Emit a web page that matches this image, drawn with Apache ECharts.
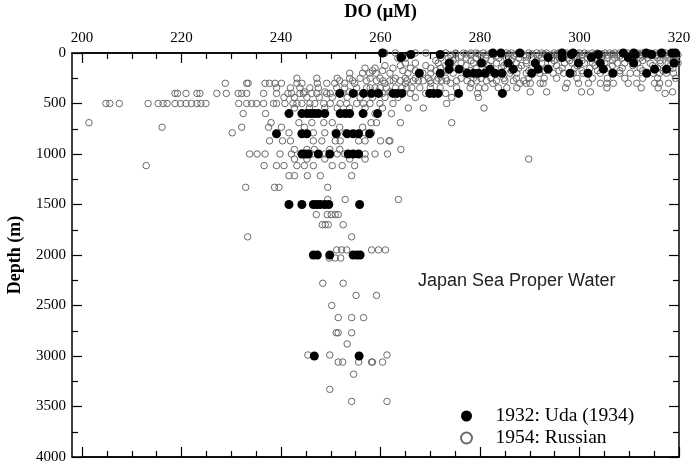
<!DOCTYPE html>
<html>
<head>
<meta charset="utf-8">
<script src="https://cdn.jsdelivr.net/npm/echarts@6/dist/echarts.min.js"></script>
<style>
  html, body { margin: 0; padding: 0; background: #fff; }
  #chart { width: 692px; height: 468px; }
</style>
</head>
<body>
<div id="chart"></div>
<script>
// 1932: Uda (1934) — depth levels (m) and the DO values (uM) read at each level
const udaLevels = [0, 15, 45, 100, 160, 200, 400, 600, 800, 1000, 1500, 2000, 3000];
const udaValues = [
  [260.4, 282.6, 284.2, 288.0, 296.5, 298.7, 308.8, 310.9, 313.4, 316.5, 318.6, 319.3],
  [266.1, 272.0, 298.4, 303.8, 311.2, 314.5],
  [264.1, 293.7, 296.5, 302.4, 309.8],
  [273.8, 280.3, 285.7, 291.1, 299.8, 304.2, 310.9, 319.0],
  [273.8, 275.8, 282.0, 286.7, 291.7, 293.7, 304.8, 315.1, 317.5],
  [267.8, 272.0, 277.4, 278.7, 279.7, 281.0, 283.0, 284.4, 290.4, 298.1, 301.7, 306.7, 313.5],
  [251.8, 254.5, 256.6, 258.2, 259.6, 262.5, 263.3, 264.3, 269.9, 270.7, 271.6, 275.7, 284.5],
  [241.6, 244.2, 245.2, 246.0, 246.7, 247.5, 248.8, 251.9, 252.9, 253.8, 256.5, 259.4],
  [239.1, 244.2, 245.2, 251.1, 253.3, 254.5, 255.6, 257.8],
  [244.2, 244.8, 245.5, 247.5, 249.8, 253.5, 254.5, 255.6],
  [241.6, 244.2, 246.5, 247.2, 247.9, 248.8, 249.6, 255.8],
  [246.5, 247.3, 249.8, 254.5, 255.3, 255.9],
  [246.7, 255.7]
];

// 1954: Russian — depth levels (m) and the DO values (uM) read at each level
const russianLevels = [
  0, 10, 20, 30, 50, 75, 100, 125, 150, 175, 200, 250, 275, 300, 345, 385,
  400, 440, 500, 545, 600, 690, 735, 790, 870, 955, 1000, 1050, 1115,
  1215, 1330, 1450, 1600, 1700, 1820, 1950, 2030, 2280, 2400, 2500, 2620,
  2770, 2880, 2990, 3060, 3180, 3330, 3450
];
const russianValues = [
  [260.9, 263.0, 267.0, 269.1, 273.1, 275.1, 276.7, 278.2, 279.2, 280.7, 282.2, 284.3, 285.3, 286.3, 288.3, 289.8, 291.4, 292.4, 293.4, 294.9, 295.9, 297.5, 298.5, 300.0, 301.0, 302.6, 303.6, 305.1, 306.1, 307.1, 308.1, 309.6, 310.7, 311.7, 312.7, 314.2, 315.2, 316.2, 317.3, 318.3, 319.3],
  [275.1, 277.2, 279.7, 282.8, 285.8, 287.3, 290.4, 292.9, 295.4, 298.0, 299.5, 301.6, 303.1, 304.6, 306.6, 309.1, 311.2, 313.2, 314.7, 316.8, 318.8],
  [274.1, 278.2, 281.2, 284.3, 288.8, 291.9, 294.4, 297.0, 300.5, 304.1, 305.6, 307.6, 310.2, 312.2, 313.7, 315.7, 317.8, 319.8],
  [276.2, 280.2, 283.3, 286.8, 289.3, 293.4, 296.5, 299.0, 302.1, 304.6, 308.1, 310.7, 312.7, 315.2, 317.3, 319.3],
  [263.5, 265.0, 272.1, 273.6, 275.1, 277.2, 279.2, 281.2, 283.8, 285.3, 287.8, 290.4, 292.4, 294.4, 295.9, 297.5, 299.5, 301.6, 303.1, 305.6, 307.1, 308.6, 310.7, 312.2, 313.7, 315.7, 317.8, 319.3],
  [271.1, 274.6, 278.2, 282.2, 286.3, 289.3, 291.4, 294.9, 298.0, 300.5, 303.6, 306.6, 310.2, 312.7, 316.2, 318.8],
  [265.0, 267.0, 271.6, 274.1, 276.2, 278.7, 280.7, 283.3, 285.3, 287.3, 289.3, 292.4, 294.4, 297.0, 298.5, 301.0, 302.6, 305.1, 307.6, 309.1, 311.7, 314.2, 316.2, 317.8, 319.8],
  [260.9, 264.0, 269.1, 273.1, 277.2, 281.7, 284.8, 288.3, 291.4, 295.4, 299.5, 303.1, 306.6, 310.7, 314.7, 318.3],
  [256.9, 258.9, 262.5, 266.0, 270.1, 272.1, 275.1, 279.2, 282.2, 284.3, 287.8, 290.4, 293.4, 296.5, 299.0, 302.1, 305.6, 308.6, 312.2, 315.7, 318.8],
  [258.4, 260.4, 264.5, 267.0, 271.1, 273.6, 278.2, 281.2, 286.3, 289.8, 292.9, 295.9, 300.5, 303.6, 308.1, 312.7, 316.8],
  [253.8, 256.4, 257.8, 259.1, 261.9, 265.5, 268.5, 270.1, 272.1, 274.6, 278.0, 281.2, 286.0, 287.4, 289.3, 292.0, 294.7, 296.8, 298.7, 300.7, 304.2, 306.8, 308.1, 310.2, 311.5, 314.8, 316.1, 317.5, 318.9],
  [243.2, 247.2, 251.3, 253.8, 255.9, 257.9, 259.9, 263.0, 265.0, 267.0, 269.6, 271.6, 273.1, 276.2, 278.7, 280.2, 282.2, 284.8, 287.3, 289.8, 292.9, 295.4, 299.5, 302.6, 305.6, 309.1, 312.7, 315.7, 319.3],
  [251.8, 254.4, 257.2, 259.2, 260.5, 261.9, 262.6, 264.0, 265.3, 266.6, 267.6, 268.6, 270.0, 271.3, 272.3, 273.3, 275.3, 277.4, 279.3, 281.3, 283.3, 285.0, 286.7, 288.8],
  [228.8, 233.1, 233.4, 236.8, 237.7, 238.8, 240.1, 243.2, 244.2, 247.3, 249.2, 250.8, 252.8, 254.8, 260.9, 265.0, 270.1, 274.1, 278.2, 282.6, 288.0, 289.3, 290.1, 292.1, 292.7, 297.5, 299.8, 301.8, 304.2, 305.5, 306.8, 309.8, 311.5, 315.1, 316.1, 317.9],
  [239.1, 241.9, 243.8, 245.8, 247.5, 251.2, 252.8, 255.2, 257.2, 257.9, 258.9, 259.9, 261.2, 263.0, 264.3, 265.3, 266.3, 267.9, 270.0, 272.0, 275.3, 278.0, 279.7, 281.0, 283.7, 285.4, 287.4, 297.2, 305.5, 312.4, 315.8],
  [244.7, 248.8, 253.8, 259.4, 261.9, 290.1, 293.4, 300.4, 302.2, 318.7],
  [218.7, 219.2, 220.9, 223.1, 223.7, 227.1, 229.0, 231.4, 232.1, 233.1, 236.5, 239.1, 241.4, 242.1, 243.8, 244.5, 246.2, 247.2, 249.2, 249.9, 252.3, 254.8, 257.4, 260.4, 266.0, 269.1, 273.1, 279.5, 317.2],
  [240.6, 242.7, 245.2, 247.7, 250.3, 253.3, 255.9, 258.4, 260.9, 263.5, 267.0, 274.3, 279.7],
  [204.8, 205.6, 207.5, 213.3, 215.3, 216.3, 217.1, 218.7, 219.8, 220.9, 222.0, 223.1, 223.9, 224.9, 231.5, 233.1, 234.1, 235.1, 236.5, 238.5, 239.1, 240.8, 242.4, 243.2, 244.2, 245.8, 246.8, 248.6, 249.9, 251.9, 253.2, 255.2, 256.6, 257.9, 259.9, 262.5, 273.3],
  [242.7, 245.7, 248.8, 251.3, 253.8, 256.9, 260.4, 265.6, 268.6, 280.8],
  [232.4, 236.9, 245.7, 248.8, 252.3, 258.9, 262.2],
  [201.4, 238.0, 243.6, 246.2, 248.6, 250.3, 258.1, 259.2, 264.0, 274.3],
  [216.1, 232.1, 237.5, 240.1, 244.7, 251.8, 256.4],
  [230.2, 241.6, 246.5, 248.8, 250.9, 252.9, 256.9, 258.2],
  [237.7, 240.3, 241.9, 246.5, 248.2, 250.9, 251.9, 255.6, 256.9, 260.0, 261.7, 261.9],
  [242.7, 245.2, 246.7, 249.8, 251.8, 264.1],
  [233.7, 235.2, 236.8, 239.8, 242.1, 246.2, 248.8, 251.3, 252.8, 256.9, 258.9, 261.4],
  [242.7, 245.2, 248.8, 253.8, 256.9, 289.8],
  [212.9, 236.6, 239.1, 240.6, 243.2, 244.7, 246.5, 250.3, 252.3, 254.8],
  [241.6, 242.7, 245.3, 247.9, 254.2],
  [232.9, 238.7, 239.6, 249.4],
  [249.4, 252.9, 263.6],
  [247.1, 249.3, 250.1, 250.9, 251.5],
  [248.3, 248.9, 249.5, 252.5],
  [233.3, 254.2],
  [251.2, 252.2, 253.2, 258.2, 259.6, 261.0],
  [249.7, 250.9, 252.0],
  [248.4, 252.5],
  [255.1, 259.2],
  [250.2],
  [251.5, 254.2, 256.6],
  [251.1, 251.5, 254.2],
  [253.3],
  [245.4, 249.8, 261.3],
  [251.5, 252.4, 255.6, 258.2, 258.4, 260.4],
  [254.6],
  [249.8],
  [254.2, 261.3]
];

const toPoints = (levels, values) =>
  levels.flatMap((depth, i) => values[i].map(v => [v, depth]));

const serif = 'Liberation Serif';
const black = { color: '#000', width: 1.5 };
const tickStyle = { color: '#000', width: 1.2 };

const baseX = {
  type: 'value',
  gridIndex: 0,
  min: 200,
  max: 320,
  interval: 20,
  splitLine: { show: false },
  axisLine: { onZero: false, lineStyle: black },
  axisTick: { inside: true, length: 10, lineStyle: tickStyle },
  minorTick: { show: true, splitNumber: 4, length: 6, lineStyle: tickStyle },
  minorSplitLine: { show: false }
};
const baseY = {
  type: 'value',
  gridIndex: 1,
  inverse: true,
  min: 0,
  max: 4000,
  interval: 500,
  splitLine: { show: false },
  axisLine: { onZero: false, lineStyle: black },
  axisTick: { inside: true, length: 10, lineStyle: tickStyle },
  minorTick: { show: true, splitNumber: 2, length: 6, lineStyle: tickStyle },
  minorSplitLine: { show: false }
};
// plain frame line (the box starts a little left of DO = 200)
const frameX = pos => ({
  type: 'value', gridIndex: 1, position: pos, min: 0, max: 1,
  axisLine: { onZero: false, lineStyle: black },
  axisTick: { show: false }, axisLabel: { show: false }, splitLine: { show: false }
});

const chart = echarts.init(document.getElementById('chart'));

const option = {
  backgroundColor: '#fff',
  animation: false,
  grid: [
    { left: 82, right: 13, top: 53, bottom: 11, outerBoundsMode: 'none', containLabel: false },
    { left: 72, right: 13, top: 53, bottom: 11, outerBoundsMode: 'none', containLabel: false }
  ],
  xAxis: [
    {
      ...baseX,
      position: 'top',
      name: 'DO (μM)',
      nameLocation: 'middle',
      nameGap: 31,
      nameTextStyle: { fontFamily: serif, fontWeight: 'bold', fontSize: 18.5, color: '#000' },
      axisLabel: { fontFamily: serif, fontSize: 15, color: '#000', margin: 7 }
    },
    { ...baseX, position: 'bottom', axisLabel: { show: false } },
    frameX('top'),
    frameX('bottom')
  ],
  yAxis: [
    { ...baseY, gridIndex: 0, show: false },
    {
      ...baseY,
      position: 'left',
      name: 'Depth (m)',
      nameLocation: 'middle',
      nameGap: 48,
      nameRotate: 90,
      nameTextStyle: { fontFamily: serif, fontWeight: 'bold', fontSize: 18, color: '#000' },
      axisLabel: {
        fontFamily: serif, fontSize: 15, color: '#000', margin: 6,
        formatter: v => String(v)
      }
    },
    { ...baseY, position: 'right', axisLabel: { show: false } }
  ],
  legend: {
    orient: 'vertical',
    left: 455,
    top: 401,
    itemWidth: 48,
    itemHeight: 11,
    itemGap: 2,
    data: ['1932: Uda (1934)', '1954: Russian'],
    textStyle: { fontFamily: serif, fontSize: 19.5, color: '#000' }
  },
  graphic: [
    {
      type: 'text',
      left: 418,
      top: 272,
      style: {
        text: 'Japan Sea Proper Water',
        font: '18px "Liberation Sans"',
        fill: '#222'
      }
    }
  ],
  series: [
    {
      name: '1954: Russian',
      type: 'scatter',
      xAxisIndex: 0,
      yAxisIndex: 0,
      symbol: 'circle',
      symbolSize: 6.5,
      itemStyle: { color: 'rgba(255,255,255,0)', borderColor: '#6a6a6a', borderWidth: 1, opacity: 1 },
      data: toPoints(russianLevels, russianValues)
    },
    {
      name: '1932: Uda (1934)',
      type: 'scatter',
      xAxisIndex: 0,
      yAxisIndex: 0,
      symbol: 'circle',
      symbolSize: 9,
      itemStyle: { color: '#000', opacity: 1 },
      data: toPoints(udaLevels, udaValues)
    }
  ]
};

chart.setOption(option);
</script>
</body>
</html>
